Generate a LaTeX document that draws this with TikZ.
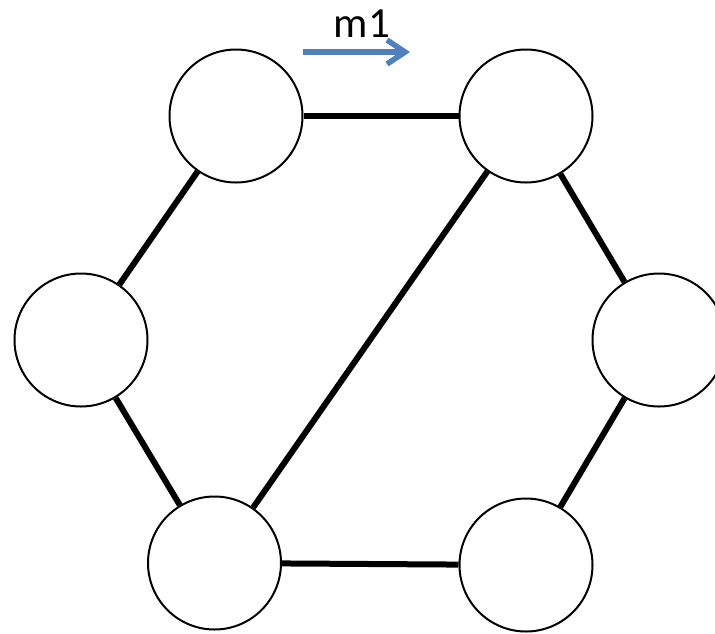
\documentclass[tikz,border=0pt]{standalone}
\usepackage{fontspec}
\setmainfont{Carlito}
\usetikzlibrary{arrows.meta}
\definecolor{arrowblue}{RGB}{79,129,189}
\begin{document}
\begin{tikzpicture}
            [every node/.style={inner sep=0pt},
             vertex/.style={circle, minimum size=133pt, fill=white, line width=2pt, draw=black},
             link/.style={line width=6pt, color=black}]
                \useasboundingbox (0pt, 0pt) rectangle (715pt, -633pt);
                \node (tl) [vertex] at (236pt, -116pt) {};
                \node (tr) [vertex] at (526pt, -116pt) {};
                \node (l) [vertex] at (81pt, -340pt) {};
                \node (r) [vertex] at (659pt, -340pt) {};
                \node (bl) [vertex] at (214.5pt, -563pt) {};
                \node (br) [vertex] at (526pt, -565pt) {};
                \draw [link] (tl.east) to  (tr.west);
                \draw [link] (tl) to  (l);
                \draw [link] (l) to  (bl);
                \draw [link] (bl) to  (br);
                \draw [link] (br) to  (r);
                \draw [link] (r) to  (tr);
                \draw [link] (tr) to  (bl);
                \coordinate (a1) at (303pt, -52pt);
                \coordinate (a2) at (410pt, -52pt);
                \draw [line width=5.5pt, color=arrowblue, -{Straight Barb[length=18pt, width=24pt]}] (a1) to  (a2);
                \node (m1) [anchor=base] at (362pt, -37pt) {\fontsize{43}{50}\selectfont m1};
            \end{tikzpicture}
\end{document}
